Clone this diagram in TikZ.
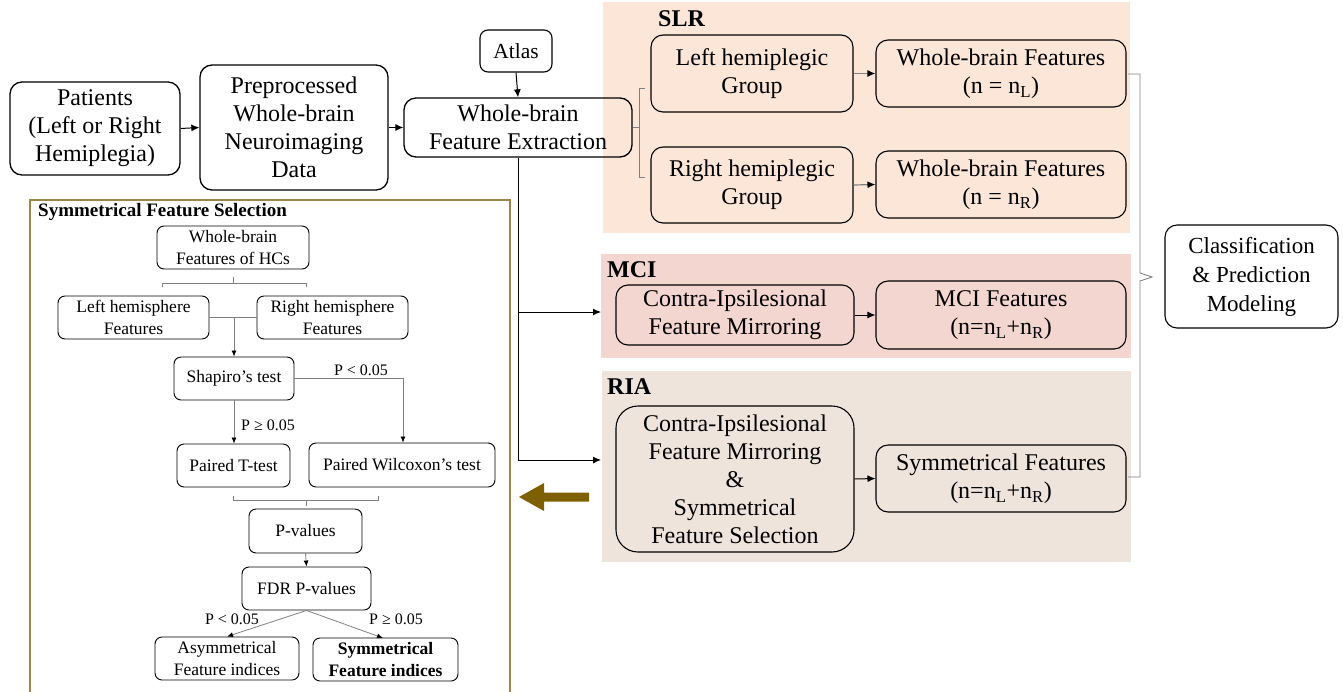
\documentclass[tikz,border=0pt]{standalone}
\usepackage{fontspec}
\setmainfont{Liberation Serif}
\usetikzlibrary{arrows.meta,calc}
\definecolor{slrfill}{HTML}{FCE6D8}
\definecolor{mcifill}{HTML}{F3D6CF}
\definecolor{riafill}{HTML}{EEE4DB}
\definecolor{olive}{HTML}{7F6000}
\definecolor{panelborder}{HTML}{9C8748}
\definecolor{conn}{HTML}{808080}
\begin{document}
\begin{tikzpicture}[x=1pt,y=-1pt,
  bigbox/.style={draw=black,line width=1.3pt,rounded corners=12pt,align=center,inner sep=0pt,
    font=\fontsize{24}{28}\selectfont},
  midbox/.style={draw=black,line width=1.1pt,rounded corners=12pt,align=center,inner sep=0pt,
    font=\fontsize{24}{28}\selectfont},
  smallbox/.style={draw=black,line width=0.9pt,rounded corners=7pt,align=center,inner sep=0pt,
    font=\fontsize{17.5}{21.5}\selectfont},
  paneltitle/.style={anchor=west,inner sep=0pt,font=\fontsize{24}{28}\selectfont\bfseries},
  mainarrow/.style={-{Latex[length=8pt,width=7pt]},line width=1pt,black},
  grayarrow/.style={-{Latex[length=8pt,width=7pt,black]},line width=1.2pt,conn},
  thinarrow/.style={-{Latex[length=6pt,width=5pt,black]},line width=0.8pt,conn},
  thinline/.style={line width=0.8pt,conn},
  bracket/.style={line width=0.9pt,conn},
  plabel/.style={inner sep=0pt,font=\fontsize{16}{19}\selectfont}
]
\useasboundingbox (0,0) rectangle (1343,691);

% panels
\fill[slrfill] (603,2) rectangle (1130,233);
\fill[mcifill] (601,254) rectangle (1131,358);
\fill[riafill] (602,371) rectangle (1131,562);
\node[paneltitle] (slrt) at (658,19) {SLR};
\node[paneltitle] (mcit) at (607,270) {MCI};
\node[paneltitle] (riat) at (607,387) {RIA};

% top row
\node[bigbox,minimum width=170pt,minimum height=93pt] (pat) at (95,128.5) {Patients\\(Left or Right\\Hemiplegia)};
\node[bigbox,minimum width=188pt,minimum height=125pt] (pre) at (294,127.5) {Preprocessed\\Whole-brain\\Neuroimaging\\Data};
\node[bigbox,minimum width=72pt,minimum height=42pt,line width=1.1pt,rounded corners=8pt,font=\fontsize{21.5}{25}\selectfont] (atlas) at (516,51) {Atlas};
\node[bigbox,minimum width=228pt,minimum height=59pt] (wbfe) at (518,127.5) {Whole-brain\\Feature Extraction};

\draw[mainarrow] (pat.east) -- (pre.west);
\draw[mainarrow] (pre.east) -- (wbfe.west);
\draw[mainarrow] (atlas.south) -- (wbfe.north);

% left bracket after feature extraction
\draw[bracket] (645,88) -- (639,88) -- (639,177) -- (645,177);
\draw[bracket] (wbfe.east) -- (639,127.5);

% SLR
\node[midbox,minimum width=202pt,minimum height=77pt] (lhg) at (752,73.5) {Left hemiplegic\\Group};
\node[midbox,minimum width=250pt,minimum height=67pt] (wbfl) at (1001,73.5) {Whole-brain Features\\(n = n\textsubscript{L})};
\node[midbox,minimum width=202pt,minimum height=76pt] (rhg) at (752,185) {Right hemiplegic\\Group};
\node[midbox,minimum width=250pt,minimum height=67pt] (wbfr) at (1001,184.5) {Whole-brain Features\\(n = n\textsubscript{R})};
\draw[grayarrow] (lhg.east) -- (wbfl.west);
\draw[grayarrow] (rhg.east) -- (wbfr.west);

% MCI
\node[midbox,minimum width=238pt,minimum height=60pt] (cifm) at (735,315) {Contra-Ipsilesional\\Feature Mirroring};
\node[midbox,minimum width=250pt,minimum height=68pt] (mcif) at (1001,315) {MCI Features\\(n=n\textsubscript{L}+n\textsubscript{R})};
\draw[mainarrow] (cifm.east) -- (mcif.west);

% RIA
\node[midbox,minimum width=238pt,minimum height=146pt,rounded corners=22pt] (riab) at (735,479) {Contra-Ipsilesional\\Feature Mirroring\\\&\\Symmetrical\\Feature Selection};
\node[midbox,minimum width=250pt,minimum height=67pt] (symf) at (1001,478.5) {Symmetrical Features\\(n=n\textsubscript{L}+n\textsubscript{R})};
\draw[mainarrow] (riab.east) -- (symf.west);

% branches from feature extraction
\coordinate (mciin) at (601,312);
\coordinate (riain) at (601,460);
\draw[line width=1pt] (wbfe.south) -- (wbfe.south |- riain);
\draw[mainarrow] (wbfe.south |- mciin) -- (mciin);
\draw[mainarrow] (wbfe.south |- riain) -- (riain);

% classification
\node[bigbox,minimum width=173pt,minimum height=103pt,line width=1.1pt,font=\fontsize{23}{29}\selectfont] (cls) at (1251.5,276.5) {Classification\\\& Prediction\\Modeling};
\draw[bracket] (1128,74) -- (1140,74) -- (1140,273) -- (1152,277) -- (1140,281) -- (1140,477) -- (1128,477);

% brown arrow
\fill[olive] (519,497) -- (544,483) -- (544,492.5) -- (589,492.5) -- (589,501.5) -- (544,501.5) -- (544,511) -- cycle;

% symmetrical feature selection panel
\draw[panelborder,line width=2pt] (30,710) -- (30,200) -- (510,200) -- (510,710);
\node[anchor=west,inner sep=0pt,font=\fontsize{19}{22}\selectfont\bfseries] (sfst) at (38,212) {Symmetrical Feature Selection};

\node[smallbox,minimum width=152pt,minimum height=43pt] (hcs) at (233,247.5) {Whole-brain\\Features of HCs};
\node[smallbox,minimum width=151pt,minimum height=43pt] (lhf) at (133.5,317.5) {Left hemisphere\\Features};
\node[smallbox,minimum width=151pt,minimum height=43pt] (rhf) at (332.5,317.5) {Right hemisphere\\Features};
\node[smallbox,minimum width=120pt,minimum height=43pt] (shap) at (234,378.5) {Shapiro’s test};
\node[smallbox,minimum width=113pt,minimum height=43pt] (ptt) at (233.5,465.5) {Paired T-test};
\node[smallbox,minimum width=186pt,minimum height=44pt] (pwt) at (402,465) {Paired Wilcoxon’s test};
\node[smallbox,minimum width=113pt,minimum height=44pt] (pval) at (305.5,531) {P-values};
\node[smallbox,minimum width=129pt,minimum height=43pt] (fdr) at (306.5,588.5) {FDR P-values};
\node[smallbox,minimum width=144pt,minimum height=43pt] (asym) at (227,658.5) {Asymmetrical\\Feature indices};
\node[smallbox,minimum width=145pt,minimum height=43pt,font=\fontsize{17.5}{21.5}\selectfont\bfseries] (sym) at (385.5,659.5) {Symmetrical\\Feature indices};

% bracket below HCs
\draw[bracket,line width=0.7pt] (162,287) -- (162,283) -- (306,283) -- (306,287);
\draw[bracket,line width=0.7pt] (233,283) -- (233,277);
% between hemispheres
\draw[thinline] (lhf.east) -- (rhf.west);
\coordinate (hemimid) at (234,317.5);
\draw[thinarrow] (hemimid) -- (shap.north);
% shapiro branches
\coordinate (pwtcorner) at (403,378.5);
\draw[thinarrow] (shap.east) -- (pwtcorner) -- (pwt.north -| pwtcorner);
\node[plabel] (lbl1) at (361,370) {P < 0.05};
\draw[thinarrow] (shap.south) -- (shap.south |- ptt.north);
\node[plabel,anchor=west] (lbl2) at (241,425) {P ≥ 0.05};
% bracket below tests
\draw[bracket,line width=0.7pt] (233,496) -- (233,500) -- (378,500) -- (378,496);
\draw[bracket,line width=0.7pt] (306,500) -- (306,506);
\draw[thinarrow] (pval.south) -- (fdr.north);
\draw[thinarrow] (fdr.south) -- (asym.north);
\draw[thinarrow] (fdr.south) -- (383,638);
\node[plabel] (lbl3) at (232,619) {P < 0.05};
\node[plabel] (lbl4) at (396,619) {P ≥ 0.05};
\end{tikzpicture}
\end{document}
